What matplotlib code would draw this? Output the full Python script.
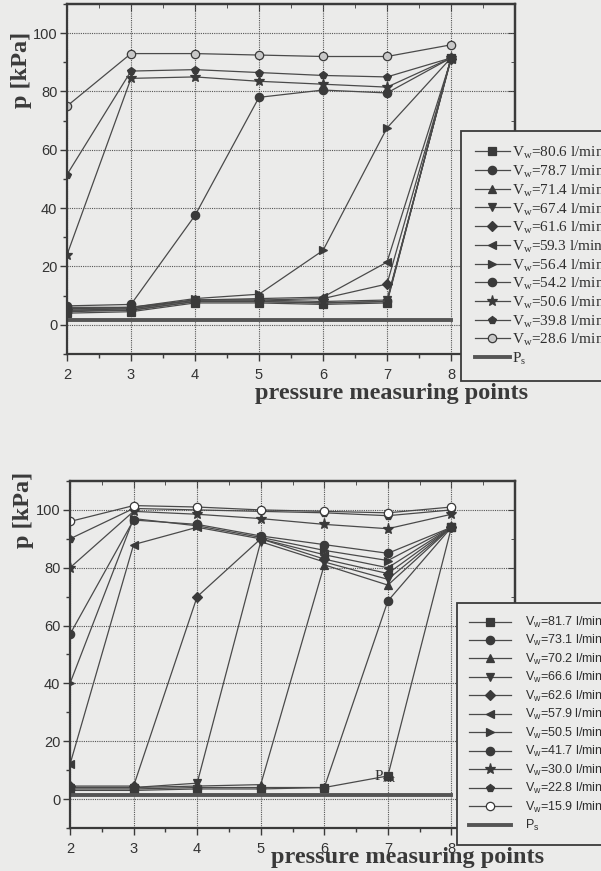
import matplotlib.pyplot as plt
from matplotlib.ticker import MultipleLocator

# measuring points along the pipe
points = [2, 3, 4, 5, 6, 7, 8]

# upper panel: water flow rates [l/min] and pressures [kPa]
flows_a = [80.6, 78.7, 71.4, 67.4, 61.6, 59.3, 56.4, 54.2, 50.6, 39.8, 28.6]
p_a = [
    [4.0, 4.5, 7.5, 7.5, 7.0, 7.5, 91.5],
    [4.5, 5.0, 8.0, 8.0, 7.5, 8.0, 91.5],
    [5.0, 5.0, 8.0, 8.0, 7.5, 8.0, 91.5],
    [5.0, 5.5, 8.5, 8.5, 8.0, 8.5, 91.0],
    [5.5, 5.5, 8.5, 8.5, 9.0, 14.0, 91.0],
    [5.5, 6.0, 8.5, 9.0, 9.5, 21.5, 91.0],
    [6.0, 6.0, 9.0, 10.5, 25.5, 67.5, 91.5],
    [6.5, 7.0, 37.5, 78.0, 80.5, 79.5, 91.5],
    [24.0, 84.5, 85.0, 83.5, 82.5, 81.5, 91.5],
    [51.5, 87.0, 87.5, 86.5, 85.5, 85.0, 91.5],
    [75.0, 93.0, 93.0, 92.5, 92.0, 92.0, 96.0],
]
ps_a = [1.7, 1.7, 1.7, 1.7, 1.7, 1.7, 1.7]

# lower panel
flows_b = [81.7, 73.1, 70.2, 66.6, 62.6, 57.9, 50.5, 41.7, 30.0, 22.8, 15.9]
p_b = [
    [3.0, 3.0, 3.5, 3.5, 4.0, 8.0, 94.0],
    [3.5, 3.5, 4.0, 4.0, 4.0, 68.5, 94.0],
    [4.0, 4.0, 4.5, 5.0, 81.0, 74.0, 94.0],
    [4.0, 4.0, 5.5, 89.0, 82.0, 76.0, 94.0],
    [4.5, 4.5, 70.0, 90.0, 83.0, 78.0, 94.0],
    [12.0, 88.0, 94.0, 90.0, 84.5, 80.0, 94.0],
    [40.0, 97.0, 94.5, 90.5, 86.0, 82.5, 94.0],
    [57.0, 96.5, 95.0, 91.0, 88.0, 85.0, 94.0],
    [80.0, 99.5, 98.5, 97.0, 95.0, 93.5, 98.5],
    [90.0, 100.5, 100.0, 99.5, 99.0, 98.0, 100.0],
    [96.0, 101.5, 101.0, 100.0, 99.5, 99.0, 101.0],
]
ps_b = [1.5, 1.5, 1.5, 1.5, 1.5, 1.5, 1.5]

markers = ["s", "o", "^", "v", "D", "<", ">", "o", "*", "p"]

BG = "#ebebea"
INK = "#3a3a3a"
W, H = 601, 871


def fx(px):
    return px / W


def fy(py):
    return 1 - py / H


def panel(ax, flows, values, ps, last_face, legend_font, legend_xy, legend_opts):
    ax.set_facecolor(BG)
    styles = markers + ["o"]
    for i, (flow, vals) in enumerate(zip(flows, values)):
        m = styles[i]
        face = last_face if i == len(flows) - 1 else INK
        ms = 5 if m == "D" else (8 if m == "*" else 6)
        ax.plot(points, vals, color="#4a4a4a", lw=0.9, marker=m, ms=ms,
                mfc=face, mec=INK, mew=0.9,
                label="V$_\\mathregular{w}$=%.1f l/min" % flow)
    ax.plot(points, ps, color="#555555", lw=2.8, label="P$_\\mathregular{s}$")

    ax.set_xlim(2, 9)
    ax.set_ylim(-10, 110)
    ax.set_xticks(points)
    ax.set_yticks([0, 20, 40, 60, 80, 100])
    ax.xaxis.set_minor_locator(MultipleLocator(0.5))
    ax.yaxis.set_minor_locator(MultipleLocator(10))
    ax.grid(True, which="major", color="#555555", lw=0.8, ls=(0, (1, 1)))
    ax.tick_params(which="both", direction="out", colors=INK, width=1.0,
                   labelsize=10.5, pad=2)
    ax.tick_params(which="major", length=5)
    ax.tick_params(which="minor", length=3)
    ax.tick_params(axis="x", pad=5)
    for lab in ax.get_xticklabels() + ax.get_yticklabels():
        lab.set_family("Liberation Sans")
        lab.set_color("#333333")
    for sp in ax.spines.values():
        sp.set_color(INK)
        sp.set_linewidth(1.6)

    # inward ticks along the top and right edges
    top = ax.secondary_xaxis("top")
    top.set_xticks(points)
    top.xaxis.set_minor_locator(MultipleLocator(0.5))
    top.tick_params(which="both", direction="in", labeltop=False, colors=INK)
    top.tick_params(which="major", length=5)
    top.tick_params(which="minor", length=3)
    right = ax.secondary_yaxis("right")
    right.set_yticks([0, 20, 40, 60, 80, 100])
    right.yaxis.set_minor_locator(MultipleLocator(10))
    right.tick_params(which="both", direction="in", labelright=False, colors=INK)
    right.tick_params(which="major", length=5)
    right.tick_params(which="minor", length=3)
    for sec in (top, right):
        for sp in sec.spines.values():
            sp.set_color(INK)
            sp.set_linewidth(1.6)

    leg = ax.legend(loc="upper left", bbox_to_anchor=legend_xy,
                    bbox_transform=ax.figure.transFigure, prop=legend_font,
                    frameon=True, fancybox=False, framealpha=1,
                    facecolor=BG, edgecolor=INK, borderaxespad=0,
                    **legend_opts)
    leg.get_frame().set_linewidth(1.3)
    for t in leg.get_texts():
        t.set_color("#2e2e2e")
    return ax


fig = plt.figure(figsize=(W / 100, H / 100), dpi=100)
fig.patch.set_facecolor(BG)

ax1 = fig.add_axes([fx(67), fy(354), fx(448), 350 / H])
ax2 = fig.add_axes([fx(70), fy(828), fx(445), 347 / H])

panel(ax1, flows_a, p_a, ps_a, "#c8c8c8",
      {"family": "Liberation Serif", "size": 11}, (fx(461), fy(131)),
      dict(handlelength=2.3, handletextpad=0.15, labelspacing=0.13,
           borderpad=0.9))
panel(ax2, flows_b, p_b, ps_b, "white",
      {"family": "Liberation Sans", "size": 9}, (fx(457), fy(603)),
      dict(handlelength=3.4, handletextpad=1.1, labelspacing=0.27,
           borderpad=0.95))

ax2.text(6.78, 7.6, "P$_\\mathregular{sat}$", family="Liberation Serif",
         fontsize=11, color="#333333", ha="left", va="center")

label_font = {"family": "Liberation Serif", "weight": "bold", "size": 17.5,
              "color": "#3a3a3a"}
fig.text(fx(22), fy(70), "p [kPa]", rotation=90, ha="center", va="center",
         **label_font)
fig.text(fx(23), fy(510), "p [kPa]", rotation=90, ha="center", va="center",
         **label_font)
fig.text(fx(392), fy(393), "pressure measuring points", ha="center",
         va="center", **label_font)
fig.text(fx(408), fy(857), "pressure measuring points", ha="center",
         va="center", **label_font)

fig.savefig("out.png", dpi=100, facecolor=BG)
